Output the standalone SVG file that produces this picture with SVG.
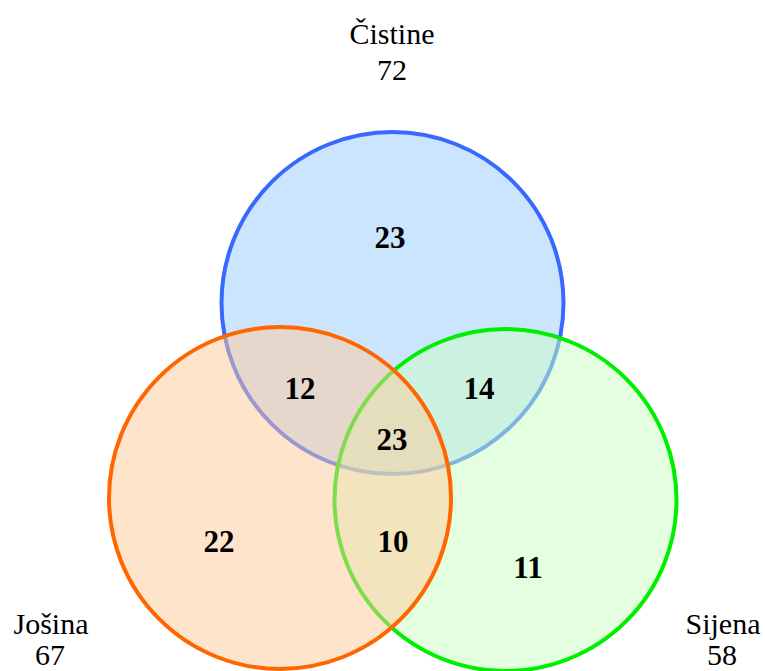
<svg xmlns="http://www.w3.org/2000/svg" width="765" height="671" viewBox="0 0 765 671">
<style>
.lbl{font-family:"Liberation Serif","Times New Roman",serif;font-size:30px;fill:#000;text-anchor:middle}
.num{font-family:"Liberation Serif","Times New Roman",serif;font-size:31px;font-weight:bold;fill:#000;text-anchor:middle}
.c{stroke-width:4}
</style>
<rect width="765" height="671" fill="#ffffff"/>
<g id="set-cistine">
<circle class="c" cx="392.5" cy="303" r="171" fill="#cce5ff" stroke="#3769ff"/>
</g>
<g id="set-sijena">
<circle class="c" cx="505.5" cy="500" r="171" fill="#c9ffc1" fill-opacity="0.5" stroke="#00ee00"/>
</g>
<g id="set-josina">
<circle class="c" cx="280" cy="498" r="171" fill="#ffc999" fill-opacity="0.5" stroke="#ff6600"/>
</g>
<g id="labels">
<text class="lbl" x="392" y="44">Čistine</text>
<text class="lbl" x="392" y="80">72</text>
<text class="lbl" x="51" y="634">Jošina</text>
<text class="lbl" x="50" y="665">67</text>
<text class="lbl" x="723" y="634">Sijena</text>
<text class="lbl" x="722" y="665">58</text>
</g>
<g id="counts">
<text class="num" x="390" y="248">23</text>
<text class="num" x="300" y="399">12</text>
<text class="num" x="479" y="399">14</text>
<text class="num" x="392" y="450">23</text>
<text class="num" x="219" y="552">22</text>
<text class="num" x="393" y="552">10</text>
<text class="num" x="528" y="578">11</text>
</g>
</svg>
